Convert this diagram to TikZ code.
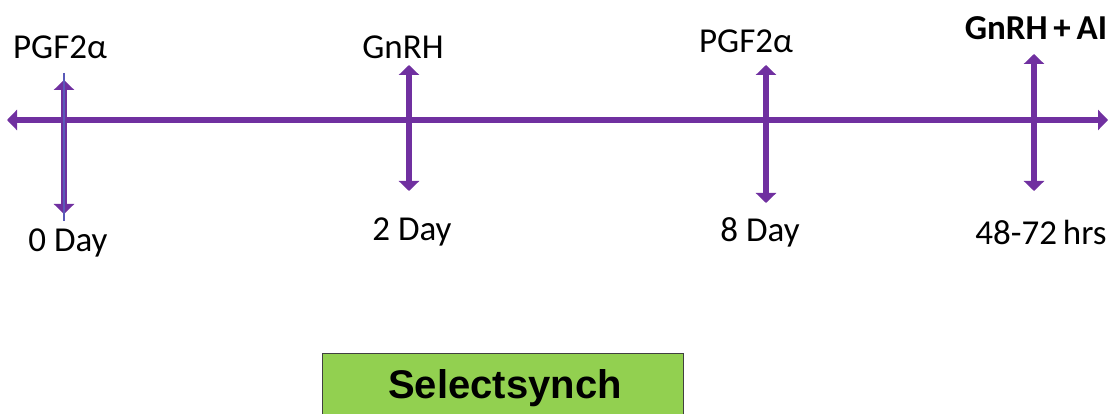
\documentclass[tikz,border=0pt]{standalone}
\usepackage{fontspec}
\setmainfont{Carlito}
\newfontfamily\boxfont{Liberation Sans}
\usetikzlibrary{arrows.meta}
\definecolor{tlpurple}{HTML}{7030A0}
\definecolor{tlblue}{HTML}{5A5AB8}
\definecolor{tlgreen}{HTML}{92D050}
\definecolor{tlframe}{HTML}{404040}
\tikzset{
  axis/.style={draw=tlpurple, line width=6.5pt,
    {Triangle[length=10pt,width=20pt]}-{Triangle[length=10pt,width=20pt]}},
  lbl/.style={font=\fontsize{35}{40}\selectfont, inner sep=0pt, text=black},
  boldlbl/.style={lbl, font=\fontsize{35}{40}\selectfont\bfseries},
  regime/.style={draw=tlframe, line width=1.2pt, fill=tlgreen,
    minimum width=361pt, minimum height=70pt, anchor=north west, inner sep=0pt},
}
\begin{document}
\begin{tikzpicture}[x=1pt, y=-1pt]
  \useasboundingbox (0,0) rectangle (1116,414);
  \clip (0,0) rectangle (1116,414);

  % time line
  \coordinate (tl-start) at (7,120);
  \coordinate (tl-end) at (1108,120);
  \draw[axis] (tl-start) -- (tl-end);

  % treatment markers
  \coordinate (m0-top) at (64,80);   \coordinate (m0-bot) at (64,214);
  \coordinate (m2-top) at (409,65);  \coordinate (m2-bot) at (409,191);
  \coordinate (m8-top) at (766,65);  \coordinate (m8-bot) at (766,203);
  \coordinate (mai-top) at (1034,54); \coordinate (mai-bot) at (1034,191);
  \draw[axis] (m0-top) -- (m0-bot);
  \draw[tlblue, line width=1.2pt] ([yshift=7pt]m0-top) -- ([yshift=-7pt]m0-bot);
  \draw[axis] (m2-top) -- (m2-bot);
  \draw[axis] (m8-top) -- (m8-bot);
  \draw[axis] (mai-top) -- (mai-bot);

  % labels above the line
  \node[lbl] (pgf-a) at (60,47) {PGF2α};
  \node[lbl] (gnrh) at (403,47) {GnRH};
  \node[lbl] (pgf-b) at (746,41) {PGF2α};
  \node[boldlbl] (gnrh-ai) at (1036,28) {GnRH\,+\,AI};

  % labels below the line
  \node[lbl] (d0) at (68,243) {0 Day};
  \node[lbl] (d2) at (412,232) {2 Day};
  \node[lbl] (d8) at (760,232) {8 Day};
  \node[lbl] (hrs) at (1041,232) {48-72\,hrs};

  % programme name
  \node[regime] (prog) at (322,353) {};
  \node[font=\boxfont\fontsize{40}{46}\selectfont\bfseries, inner sep=0pt] (prog-name) at (505,388) {Selectsynch};
\end{tikzpicture}
\end{document}
